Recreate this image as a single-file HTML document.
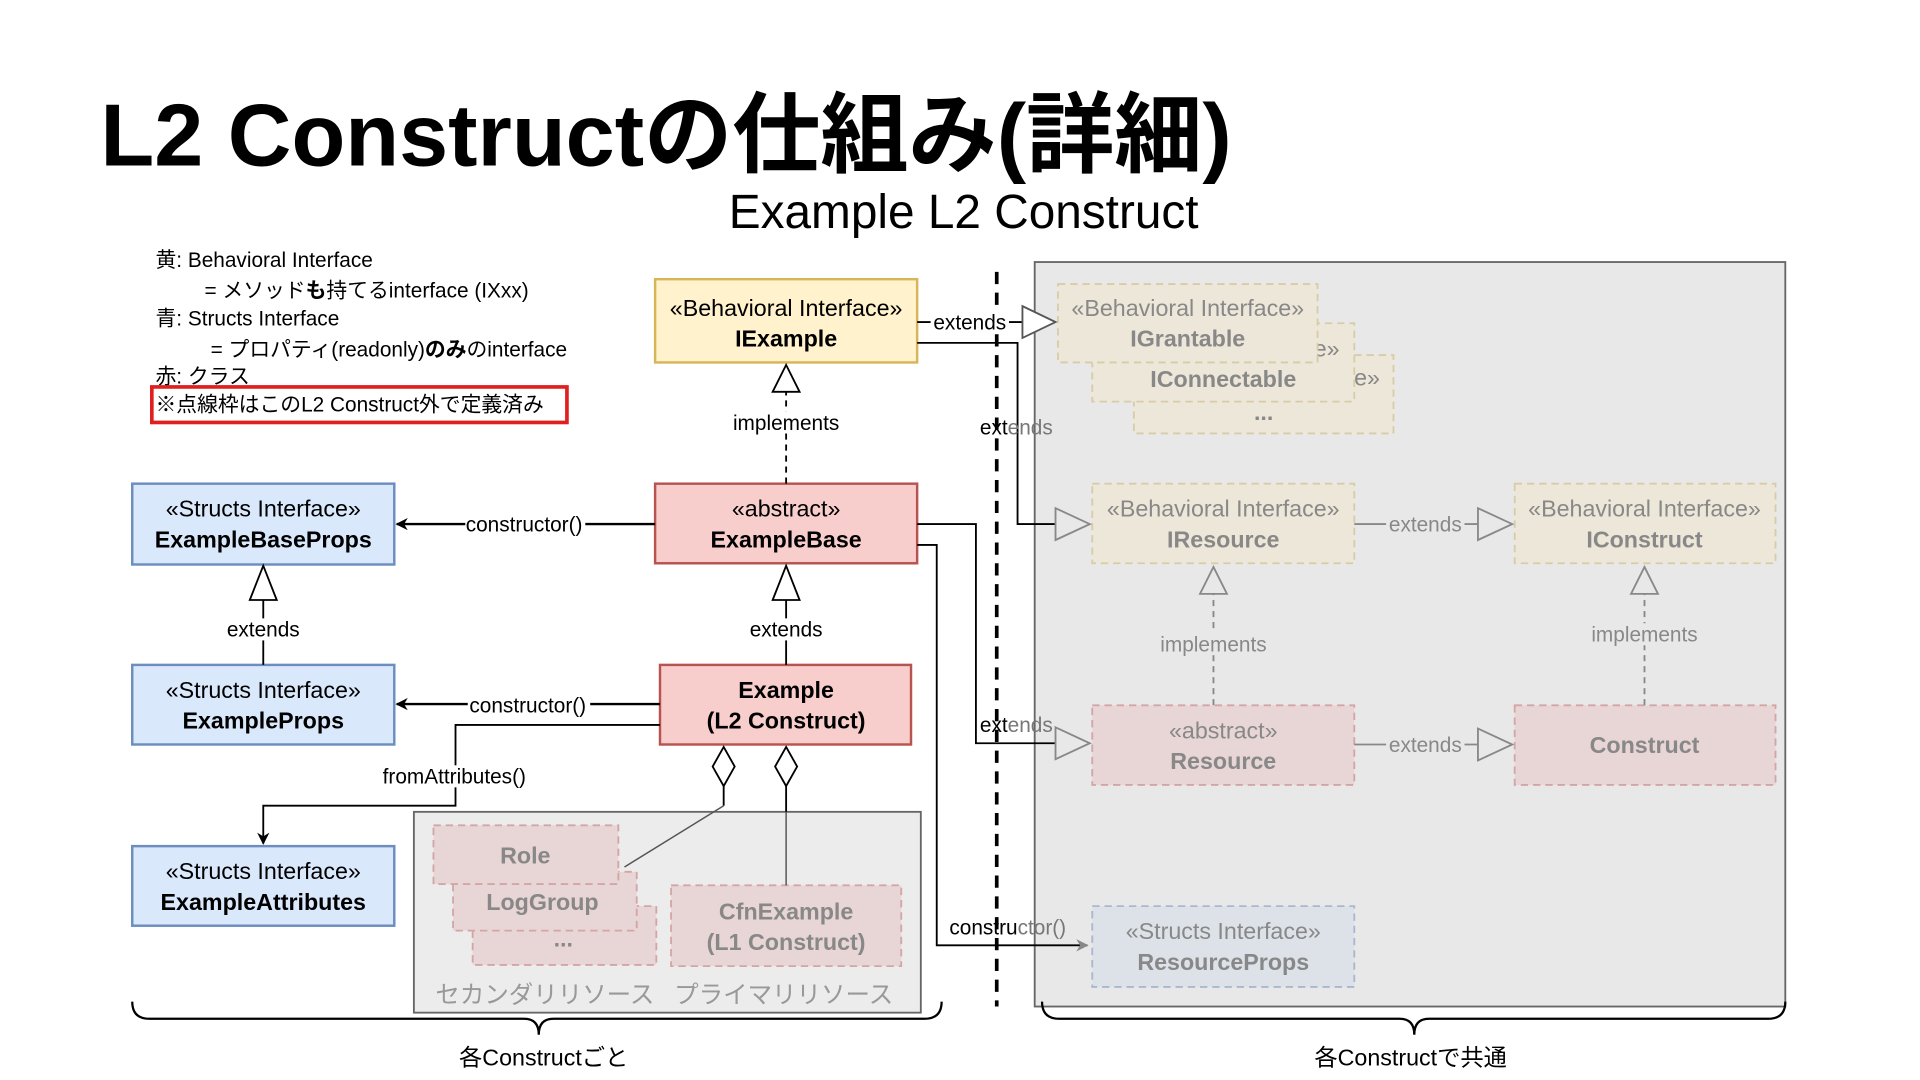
<!DOCTYPE html>
<html><head><meta charset="utf-8"><style>
html,body{margin:0;padding:0;background:#fff;width:1920px;height:1080px;overflow:hidden}
svg text{font-family:"Liberation Sans","Noto Sans CJK JP",sans-serif}
</style></head><body>
<svg width="1920" height="1080" viewBox="0 0 1568 882" preserveAspectRatio="none" xmlns="http://www.w3.org/2000/svg">
<defs>
<marker id="ar" markerWidth="10" markerHeight="10" refX="9" refY="5" orient="auto" markerUnits="userSpaceOnUse"><path d="M0,0 L10,5 L0,10 L3,5 Z" fill="#000"/></marker>
<marker id="arg" markerWidth="10" markerHeight="10" refX="9" refY="5" orient="auto" markerUnits="userSpaceOnUse"><path d="M0,0 L10,5 L0,10 L3,5 Z" fill="#888"/></marker>
</defs>
<text x="82" y="135" font-size="72" font-weight="bold" fill="#000">L2 Constructの仕組み(詳細)</text>
<text x="787" y="186" font-size="39" text-anchor="middle" fill="#000">Example L2 Construct</text>
<g font-size="17" fill="#000">
<text x="127" y="218">黄: Behavioral Interface</text>
<text x="167" y="243">= メソッド<tspan font-weight="bold">も</tspan>持てるinterface (IXxx)</text>
<text x="127" y="266">青: Structs Interface</text>
<text x="172" y="291">= プロパティ(readonly)<tspan font-weight="bold">のみ</tspan>のinterface</text>
<text x="127" y="313">赤: クラス</text>
<text x="127" y="336">※点線枠はこのL2 Construct外で定義済み</text>
</g>
<rect x="124" y="316" width="339" height="29" fill="none" stroke="#e02020" stroke-width="3"/>

<rect x="845" y="214" width="613" height="608" fill="#e8e8e8" stroke="#666" stroke-width="1.5"/>
<rect x="338" y="663" width="414" height="164" fill="#ececec" stroke="#666" stroke-width="1.5"/>

<line x1="814" y1="222" x2="814" y2="822" stroke="#000" stroke-width="3" stroke-dasharray="10,7"/>

<g font-size="19" text-anchor="middle">
<rect x="926" y="290" width="212" height="64" fill="#ede7d9" stroke="#d8cca8" stroke-width="1.5" stroke-dasharray="6,4"/>
<text x="1032" y="315" fill="#888">«Behavioral Interface»</text>
<text x="1032" y="343" fill="#888" font-weight="bold">...</text>
<rect x="892" y="264" width="214" height="64" fill="#ede7d9" stroke="#d8cca8" stroke-width="1.5" stroke-dasharray="6,4"/>
<text x="999" y="291" fill="#888">«Behavioral Interface»</text>
<text x="999" y="316" fill="#888" font-weight="bold">IConnectable</text>
<rect x="864" y="232" width="212" height="64" fill="#ede7d9" stroke="#d8cca8" stroke-width="1.5" stroke-dasharray="6,4"/>
<text x="970" y="258" fill="#888">«Behavioral Interface»</text>
<text x="970" y="283" fill="#888" font-weight="bold">IGrantable</text>

<rect x="892" y="395" width="214" height="65" fill="#ede7d9" stroke="#d8cca8" stroke-width="1.5" stroke-dasharray="6,4"/>
<text x="999" y="422" fill="#888">«Behavioral Interface»</text>
<text x="999" y="447" fill="#888" font-weight="bold">IResource</text>
<rect x="1237" y="395" width="213" height="65" fill="#ede7d9" stroke="#d8cca8" stroke-width="1.5" stroke-dasharray="6,4"/>
<text x="1343" y="422" fill="#888">«Behavioral Interface»</text>
<text x="1343" y="447" fill="#888" font-weight="bold">IConstruct</text>
<rect x="892" y="576" width="214" height="65" fill="#e8d5d5" stroke="#d4a5a5" stroke-width="1.5" stroke-dasharray="6,4"/>
<text x="999" y="603" fill="#888">«abstract»</text>
<text x="999" y="628" fill="#888" font-weight="bold">Resource</text>
<rect x="1237" y="576" width="213" height="65" fill="#e8d5d5" stroke="#d4a5a5" stroke-width="1.5" stroke-dasharray="6,4"/>
<text x="1343" y="615" fill="#888" font-weight="bold">Construct</text>
<rect x="892" y="740" width="214" height="66" fill="#dde1e8" stroke="#a9b8cf" stroke-width="1.5" stroke-dasharray="6,4"/>
<text x="999" y="767" fill="#888">«Structs Interface»</text>
<text x="999" y="792" fill="#888" font-weight="bold">ResourceProps</text>

<rect x="386" y="740" width="150" height="48" fill="#e8d5d5" stroke="#d4a5a5" stroke-width="1.5" stroke-dasharray="6,4"/>
<text x="460" y="773" fill="#888" font-weight="bold">...</text>
<rect x="370" y="712" width="150" height="48" fill="#e8d5d5" stroke="#d4a5a5" stroke-width="1.5" stroke-dasharray="6,4"/>
<text x="443" y="743" fill="#888" font-weight="bold">LogGroup</text>
<rect x="354" y="674" width="151" height="48" fill="#e8d5d5" stroke="#d4a5a5" stroke-width="1.5" stroke-dasharray="6,4"/>
<text x="429" y="705" fill="#888" font-weight="bold">Role</text>
<rect x="548" y="723" width="188" height="66" fill="#e8d5d5" stroke="#d4a5a5" stroke-width="1.5" stroke-dasharray="6,4"/>
<text x="642" y="751" fill="#888" font-weight="bold">CfnExample</text>
<text x="642" y="776" fill="#888" font-weight="bold">(L1 Construct)</text>
<text x="445" y="819" fill="#999" font-size="20">セカンダリリソース</text>
<text x="640" y="819" fill="#999" font-size="20">プライマリリソース</text>

<rect x="535" y="228" width="214" height="68" fill="#fff2cc" stroke="#d6b656" stroke-width="2"/>
<text x="642" y="258" fill="#000">«Behavioral Interface»</text>
<text x="642" y="283" fill="#000" font-weight="bold">IExample</text>
<rect x="535" y="395" width="214" height="65" fill="#f8cecc" stroke="#b85450" stroke-width="2"/>
<text x="642" y="422" fill="#000">«abstract»</text>
<text x="642" y="447" fill="#000" font-weight="bold">ExampleBase</text>
<rect x="539" y="543" width="205" height="65" fill="#f8cecc" stroke="#b85450" stroke-width="2"/>
<text x="642" y="570" fill="#000" font-weight="bold">Example</text>
<text x="642" y="595" fill="#000" font-weight="bold">(L2 Construct)</text>
<rect x="108" y="395" width="214" height="66" fill="#dae8fc" stroke="#6c8ebf" stroke-width="2"/>
<text x="215" y="422" fill="#000">«Structs Interface»</text>
<text x="215" y="447" fill="#000" font-weight="bold">ExampleBaseProps</text>
<rect x="108" y="543" width="214" height="65" fill="#dae8fc" stroke="#6c8ebf" stroke-width="2"/>
<text x="215" y="570" fill="#000">«Structs Interface»</text>
<text x="215" y="595" fill="#000" font-weight="bold">ExampleProps</text>
<rect x="108" y="691" width="214" height="65" fill="#dae8fc" stroke="#6c8ebf" stroke-width="2"/>
<text x="215" y="718" fill="#000">«Structs Interface»</text>
<text x="215" y="743" fill="#000" font-weight="bold">ExampleAttributes</text>
</g>

<g fill="none" stroke="#000" stroke-width="1.5">
<path d="M749 263 H835"/>
<path d="M835 250 L862 263 L835 276 Z" fill="#fff" stroke="#555"/>
<path d="M749 280 H831 V428 H862"/>
<path d="M642 395 V320" stroke-dasharray="5,4"/>
<path d="M631 320 L642 298 L653 320 Z" fill="#fff"/>
<path d="M749 428 H797 V607 H862"/>
<path d="M749 445 H765 V772 H888" marker-end="url(#arg)"/>
<path d="M535 428 H324" marker-end="url(#ar)" stroke-width="2"/>
<path d="M642 543 V490"/>
<path d="M631 490 L642 462 L653 490 Z" fill="#fff"/>
<path d="M215 543 V490"/>
<path d="M204 490 L215 462 L226 490 Z" fill="#fff"/>
<path d="M539 575 H324" marker-end="url(#ar)" stroke-width="2"/>
<path d="M539 592 H372 V658 H215 V689" marker-end="url(#ar)"/>
<path d="M591 610 L600 626 L591 642 L582 626 Z" fill="#fff"/>
<path d="M642 610 L651 626 L642 642 L633 626 Z" fill="#fff"/>
<path d="M591 642 V658"/>
<path d="M642 642 V663"/>
</g>
<g fill="none" stroke="#555" stroke-width="1.2">
<path d="M591 658 L510 708"/>
<path d="M642 663 V723"/>
</g>
<g fill="none" stroke="#888" stroke-width="1.5">
<path d="M862 415 L890 428 L862 441 Z" fill="#e8e8e8"/>
<path d="M862 594 L890 607 L862 620 Z" fill="#e8e8e8"/>
<path d="M1106 428 H1207"/>
<path d="M1207 415 L1235 428 L1207 441 Z" fill="#e8e8e8"/>
<path d="M1106 608 H1207"/>
<path d="M1207 595 L1235 608 L1207 621 Z" fill="#e8e8e8"/>
<path d="M991 576 V485" stroke-dasharray="5,4"/>
<path d="M980 485 L991 463 L1002 485 Z" fill="#e8e8e8"/>
<path d="M1343 576 V485" stroke-dasharray="5,4"/>
<path d="M1332 485 L1343 463 L1354 485 Z" fill="#e8e8e8"/>
</g>

<g font-size="17" text-anchor="middle">
<rect x="760" y="254" width="64" height="18" fill="#fff"/>
<text x="792" y="269" fill="#000">extends</text>
<text x="830" y="355" fill="#000">ext<tspan fill="#777">ends</tspan></text>
<rect x="596" y="336" width="92" height="18" fill="#fff"/>
<text x="642" y="351" fill="#000">implements</text>
<text x="830" y="598" fill="#000">ext<tspan fill="#777">ends</tspan></text>
<text x="823" y="763" fill="#000">constru<tspan fill="#777">ctor()</tspan></text>
<rect x="380" y="419" width="98" height="18" fill="#fff"/>
<text x="428" y="434" fill="#000">constructor()</text>
<rect x="382" y="567" width="100" height="18" fill="#fff"/>
<text x="431" y="582" fill="#000">constructor()</text>
<rect x="610" y="505" width="64" height="18" fill="#fff"/>
<text x="642" y="520" fill="#000">extends</text>
<rect x="183" y="505" width="64" height="18" fill="#fff"/>
<text x="215" y="520" fill="#000">extends</text>
<rect x="308" y="625" width="126" height="18" fill="#fff"/>
<text x="371" y="640" fill="#000">fromAttributes()</text>
<rect x="1132" y="419" width="64" height="18" fill="#e8e8e8"/>
<text x="1164" y="434" fill="#888">extends</text>
<rect x="1132" y="599" width="64" height="18" fill="#e8e8e8"/>
<text x="1164" y="614" fill="#888">extends</text>
<rect x="945" y="517" width="92" height="18" fill="#e8e8e8"/>
<text x="991" y="532" fill="#888">implements</text>
<rect x="1297" y="509" width="92" height="18" fill="#e8e8e8"/>
<text x="1343" y="524" fill="#888">implements</text>
</g>

<g fill="none" stroke="#000" stroke-width="1.8">
<path d="M108 818 Q108 832 122 832 H428 Q440 832 440 845 Q440 832 452 832 H755 Q769 832 769 818"/>
<path d="M851 818 Q851 832 865 832 H1143 Q1155 832 1155 845 Q1155 832 1167 832 H1444 Q1458 832 1458 818"/>
</g>
<g font-size="19" text-anchor="middle" fill="#000">
<text x="444" y="870">各Constructごと</text>
<text x="1152" y="870">各Constructで共通</text>
</g>
</svg>
</body></html>
